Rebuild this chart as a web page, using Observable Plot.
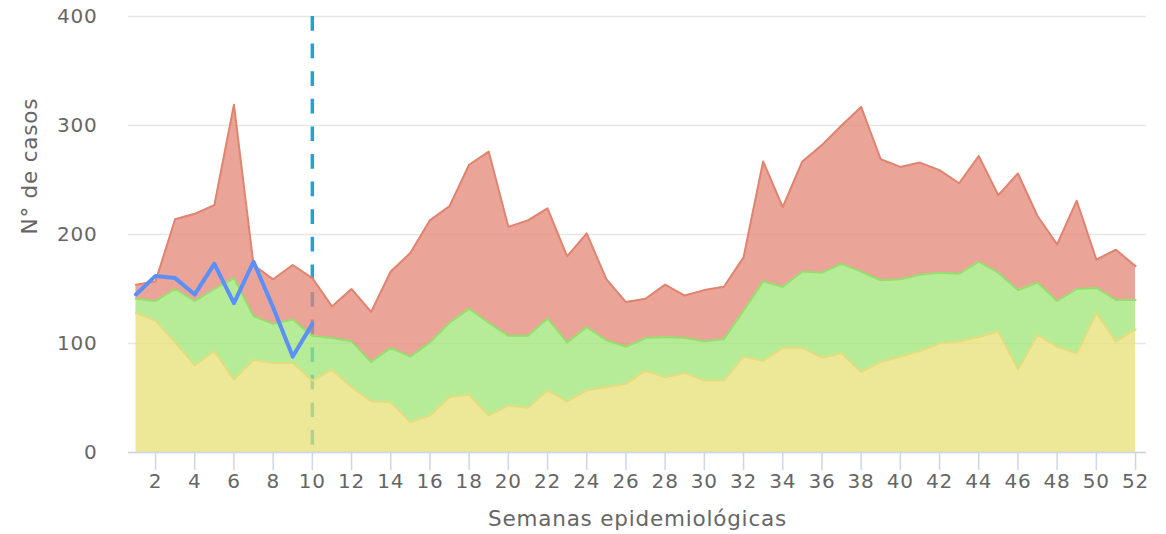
<!DOCTYPE html>
<html><head><meta charset="utf-8">
<script src="https://cdn.jsdelivr.net/npm/d3@7"></script>
<script src="https://cdn.jsdelivr.net/npm/@observablehq/plot@0.6"></script>
<style>body{margin:0;background:#fff;} svg text{letter-spacing:0.8px;}</style>
</head><body><div id="chart"></div>
<script>
const weeks = d3.range(1, 53);
const lower  = [128,121,101,80,93,67,85,82,82,66,76,60,47,46,28,34,51,53,34,43,41,57,47,57,60,63,75,69,73,66,66,88,84,96,96,87,91,74,83,88,93,100,102,106,111,76,108,97,91,128,102,113];
const median = [141,139,150,139,150,160,125,118,122,107,105,102,83,96,88,101,119,132,119,107,107,123,101,115,103,97,105,106,105,102,104,130,157,152,166,165,173,166,158,159,163,165,164,175,165,149,156,139,150,151,140,140];
const upper  = [154,157,214,219,227,319,172,159,172,160,134,150,129,166,183,213,226,264,276,207,213,224,180,201,159,138,141,154,144,149,152,179,267,225,267,282,300,317,269,262,266,259,247,272,236,256,217,191,231,177,186,171];
const currentWeeks = d3.range(1, 11);
const current = [145,162,160,145,173,137,175,133,88,118];
const xTicks = d3.range(2, 53, 2);
const yTicks = [0, 100, 200, 300, 400];
const cutWeek = [10];

const data = weeks.map((w, i) => ({week: w, lower: lower[i], median: median[i], upper: upper[i]}));
const cur = currentWeeks.map((w, i) => ({week: w, value: current[i]}));

const chart = Plot.plot({
  width: 1166, height: 534,
  marginLeft: 128, marginRight: 20, marginTop: 16, marginBottom: 82,
  style: {fontFamily: "DejaVu Sans", fontSize: "20px", color: "#666", background: "#fff"},
  x: {domain: [0.62, 52.56]},
  y: {domain: [0, 400]},
  marks: [
    Plot.gridY(yTicks, {stroke: "#e6e6e6", strokeOpacity: 1, strokeWidth: 1.5}),
    Plot.ruleX(cutWeek, {y1: 400, y2: 0, stroke: "#23a1d1", strokeWidth: 3.5, strokeDasharray: "14.7,12.9"}),
    Plot.areaY(data, {x: "week", y1: 0, y2: "lower", fill: "#e6e076", fillOpacity: 0.75}),
    Plot.areaY(data, {x: "week", y1: "lower", y2: "median", fill: "#9ee676", fillOpacity: 0.75}),
    Plot.areaY(data, {x: "week", y1: "median", y2: "upper", fill: "#e38676", fillOpacity: 0.75}),
    Plot.lineY(data, {x: "week", y: "lower", stroke: "#e4dc7c", strokeWidth: 2}),
    Plot.lineY(data, {x: "week", y: "median", stroke: "#96de6c", strokeWidth: 2}),
    Plot.lineY(data, {x: "week", y: "upper", stroke: "#e08470", strokeWidth: 2}),
    Plot.ruleY([0], {stroke: "#ccd6eb", strokeWidth: 1.5}),
    Plot.axisX(xTicks, {tickSize: 18, tickPadding: 3, stroke: "#ccd6eb", strokeWidth: 1.5, fill: "#666", fontSize: 20, label: null}),
    Plot.axisY(yTicks, {tickSize: 0, tickPadding: 31, fill: "#666", fontSize: 20, label: null}),
    Plot.lineY(cur, {x: "week", y: "value", stroke: "#5b8ff9", strokeWidth: 4, strokeLinejoin: "round"}),
    Plot.text(["Semanas epidemiológicas"], {frameAnchor: "bottom", lineAnchor: "top", dy: 58, fontSize: 21.5, fill: "#666"}),
    Plot.text(["N° de casos"], {frameAnchor: "left", rotate: -90, dx: -98, fontSize: 21.5, fill: "#666"})
  ]
});
document.getElementById("chart").appendChild(chart);
</script>
</body></html>
